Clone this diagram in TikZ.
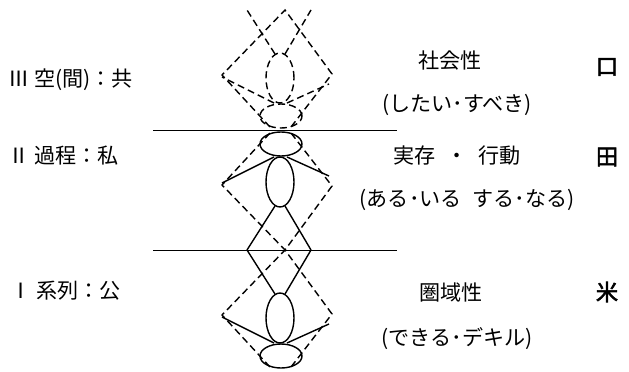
\documentclass[tikz,border=0pt]{standalone}
\usepackage{fontspec}
\setmainfont{Noto Sans CJK JP}
\newfontfamily\signfont[FakeBold=2.5]{Noto Sans CJK JP}
\usepackage{tikz}
\usetikzlibrary{positioning}

\begin{document}
\begin{tikzpicture}[x=0.03cm, y=-0.03cm,
  figline/.style={line width=1.2pt, line join=round},
  figdash/.style={line width=1.2pt, dash pattern=on 6pt off 3.5pt},
  levelline/.style={line width=0.8pt},
  lvltext/.style={anchor=west, inner sep=0pt, font=\fontsize{18}{21}\selectfont},
  sidetext/.style={inner sep=0pt, font=\fontsize{18}{21}\selectfont},
  signtext/.style={inner sep=0pt, font=\signfont\fontsize{19}{22}\selectfont}
]
\useasboundingbox (0,0) rectangle (629,372);

% level lines
\draw[levelline] (153,130) -- (397,130);
\draw[levelline] (153,250) -- (397,250);

% figure of level II, mirrored up into III and down into I
\foreach \flip/\mid/\bodystyle in {1/0/figline, -1/260/figdash, -1/500/figline}{
  \begin{scope}[shift={(0,\mid)}, yscale=\flip]
    \draw[\bodystyle] (281,144) ellipse [x radius=21, y radius=12];
    \draw[\bodystyle] (280,182) ellipse [x radius=14, y radius=25];
    \draw[\bodystyle] (274,157) -- (222,183);
    \draw[\bodystyle] (287,157) -- (329,176);
    \draw[\bodystyle] (275,206) -- (247,250);
    \draw[\bodystyle] (285,206) -- (311,250);
    \draw[figdash] (270,133) -- (222,185) -- (285,250) -- (332,186) -- (291,133);
  \end{scope}
}

% level names
\node[lvltext] (lvthree) at (8,80) {Ⅲ 空(間)：共};
\node[lvltext] (lvtwo) at (8,156) {Ⅱ 過程：私};
\node[lvltext] (lvone) at (10,291) {Ⅰ 系列：公};

% right hand texts
\node[sidetext] (soc) at (450,61) {社会性};
\node[sidetext] (socv) at (457,105) {(したい･すべき)};
\node[sidetext] (exis) at (457,156) {実存\hspace{0.5em}・\hspace{0.5em}行動};
\node[sidetext] (exisv) at (467,200) {(ある･いる\hspace{0.5em}する･なる)};
\node[sidetext] (area) at (451,292) {圏域性};
\node[sidetext] (areav) at (457,339) {(できる･デキル)};

% signs
\node[signtext] (sgthree) at (607,67) {口};
\node[signtext] (sgtwo) at (607,157) {田};
\node[signtext] (sgone) at (607,292) {米};
\end{tikzpicture}
\end{document}
